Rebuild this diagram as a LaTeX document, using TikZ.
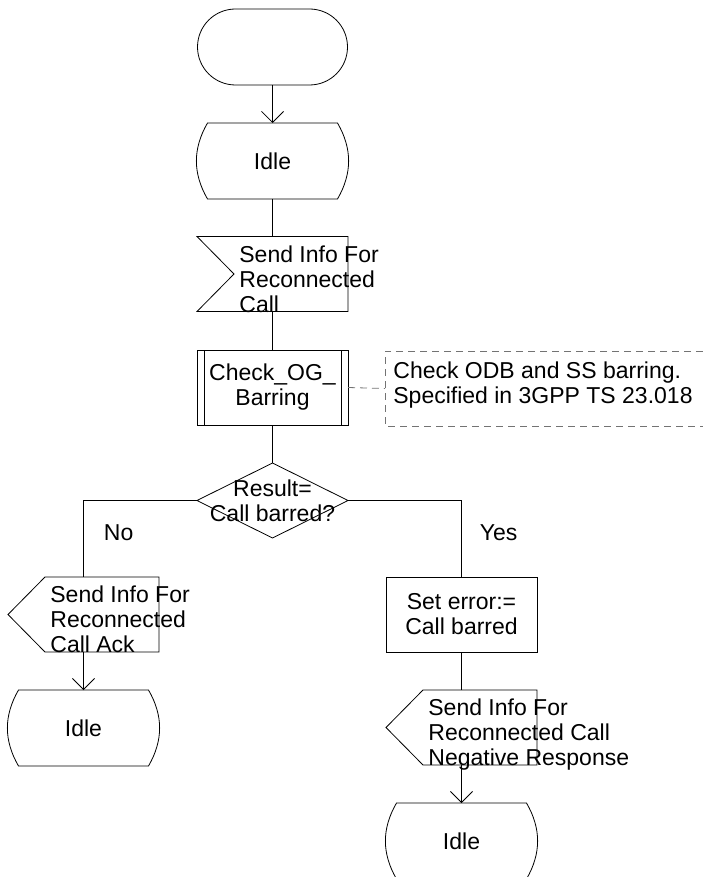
\documentclass[tikz,border=0pt]{standalone}
\usepackage{fontspec}
\setmainfont{Liberation Sans}
\usetikzlibrary{arrows.meta, shapes.geometric}

\begin{document}
\begin{tikzpicture}[x=1pt, y=-1pt, line width=0.8pt,
		font=\fontsize{23}{25}\selectfont,
		box/.style={minimum width=151pt, minimum height=75pt, inner sep=0pt, outer sep=0pt},
		terminal/.style={box, draw, rounded corners=38pt, minimum width=150pt, minimum height=76pt},
		state/.style={box, minimum width=130pt, minimum height=76pt},
		taskbox/.style={box, draw, align=center},
		decision/.style={diamond, draw, minimum width=151pt, minimum height=75pt, inner sep=0pt, outer sep=0pt},
		txt/.style={align=left, inner sep=0pt},
		flow/.style={-{Straight Barb[length=11pt, width=22pt]}},
		note/.style={draw=gray!90!black, dash pattern=on 7pt off 5pt}]
		\useasboundingbox (0,0) rectangle (703,877);

		% Main column
		\node[terminal] (start) at (272.5,47) {};
		\node[state] (idle0) at (272.5,161) {Idle};
		\node[box] (recv) at (272.5,274) {};
		\node[txt, anchor=west] (recvtxt) at ([xshift=42pt, yshift=-5pt]recv.west) {Send Info For\\Reconnected\\Call};
		\node[taskbox] (check) at (272.5,387.5) {Check\_OG\_\\Barring};
		\node[decision] (result) at (272.5,500.5) {};
		\node[txt, align=center] (resulttxt) at (result) {Result=\\Call barred?};

		% Comment
		\node[box, minimum width=330pt] (comment) at (550,388.5) {};
		\node[txt, anchor=west] (commenttxt) at ([xshift=8pt, yshift=3pt]comment.west) {Check ODB and SS barring.\\Specified in 3GPP TS 23.018};

		% No branch
		\node[box] (ack) at (83.5,614.5) {};
		\node[txt, anchor=west] (acktxt) at ([xshift=42pt, yshift=-5pt]ack.west) {Send Info For\\Reconnected\\Call Ack};
		\node[state] (idle1) at (83.5,728) {Idle};

		% Yes branch
		\node[taskbox] (seterr) at (461.5,614.5) {Set error:=\\Call barred};
		\node[box] (nack) at (461.5,727.5) {};
		\node[txt, anchor=west] (nacktxt) at ([xshift=42pt, yshift=-7pt]nack.west) {Send Info For\\Reconnected Call\\Negative Response};
		\node[state] (idle2) at (461.5,841) {Idle};

		% Shape outlines
		\foreach \n in {idle0, idle1, idle2}
			\draw (\n.north west) to[bend right=30] (\n.south west) -- (\n.south east) to[bend right=30] (\n.north east) -- cycle;
		\draw (recv.north west) -- (recv.north east) -- (recv.south east) -- (recv.south west) -- ([xshift=37pt]recv.west) -- cycle;
		\foreach \n in {ack, nack}
			\draw ([xshift=37pt]\n.north west) -- (\n.north east) -- (\n.south east) -- ([xshift=37pt]\n.south west) -- (\n.west) -- cycle;
		\draw ([xshift=7pt]check.north west) -- ([xshift=7pt]check.south west);
		\draw ([xshift=-7pt]check.north east) -- ([xshift=-7pt]check.south east);
		\draw[note] (comment.north east) -- (comment.north west) -- (comment.south west) -- (comment.south east);

		% Connectors
		\draw[flow] (start.south) -- (idle0.north);
		\draw (idle0.south) -- (recv.north);
		\draw (recv.south) -- (check.north);
		\draw (check.south) -- (result.north);
		\draw[note] (check.east) -- (comment.west);
		\draw (result.west) -| (ack.north) node[pos=0.71, anchor=west, xshift=20pt, inner sep=0pt] (no) {No};
		\draw (result.east) -| (seterr.north) node[pos=0.71, anchor=west, xshift=18pt, inner sep=0pt] (yes) {Yes};
		\draw[flow] (ack.south) -- (idle1.north);
		\draw (seterr.south) -- (nack.north);
		\draw[flow] (nack.south) -- (idle2.north);
	\end{tikzpicture}
\end{document}
